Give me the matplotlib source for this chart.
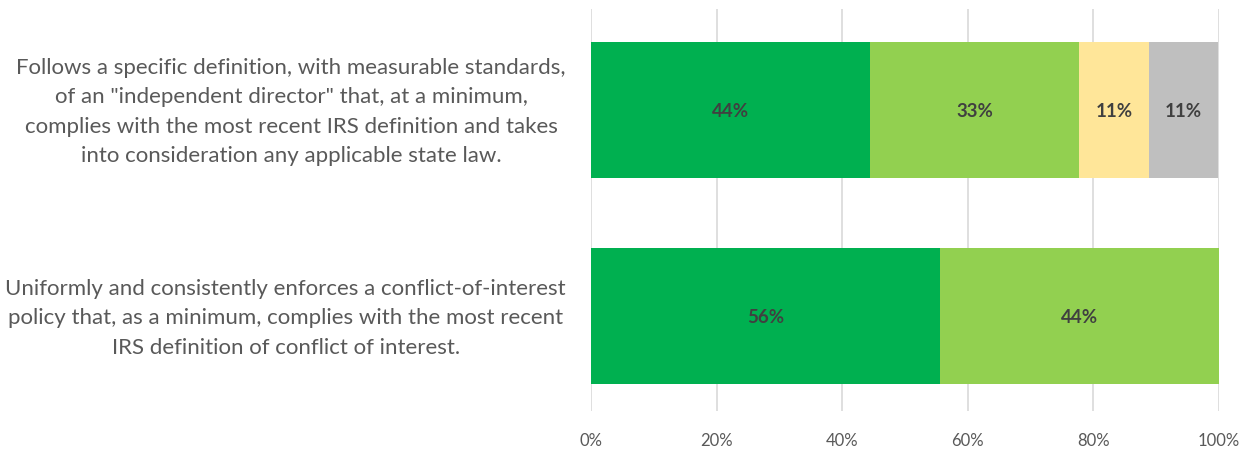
import matplotlib
matplotlib.use("Agg")
import matplotlib.pyplot as plt
import numpy as np

categories = [
    'Uniformly and consistently enforces a conflict-of-interest\npolicy that, as a minimum, complies with the most recent\nIRS definition of conflict of interest.',
    'Follows a specific definition, with measurable standards,\nof an "independent director" that, at a minimum,\ncomplies with the most recent IRS definition and takes\ninto consideration any applicable state law.',
]
series_names = ['S1', 'S2', 'S3', 'S4']
series_values = [
    [55.6, 44.4],
    [44.4, 33.3],
    [0.0, 11.1],
    [0.0, 11.1],
]
colors = ['#00B050', '#92D050', '#FFE699', '#BFBFBF']
xticks = [0, 20, 40, 60, 80, 100]
xtick_labels = ['0%', '20%', '40%', '60%', '80%', '100%']

plt.rcParams['font.family'] = ['Lato', 'DejaVu Sans']
fig = plt.figure(figsize=(12.44, 4.56), dpi=100)
ax = fig.add_axes([591/1244, 1-412/456, (1219-591)/1244, (412-10)/456])

y = np.arange(len(categories))
left = np.zeros(len(categories))
for name, vals, c in zip(series_names, series_values, colors):
    vals = np.array(vals)
    bars = ax.barh(y, vals, left=left, height=0.66, color=c, zorder=3)
    for b, v in zip(bars, vals):
        if v > 0:
            ax.text(b.get_x() + b.get_width()/2, b.get_y() + b.get_height()/2,
                    f'{v:.0f}%', ha='center', va='center', fontsize=13.5,
                    fontweight='bold', color='#404040', zorder=4)
    left += vals

ax.set_xlim(0, 100)
ax.set_ylim(-0.46, 1.49)
ax.set_xticks(xticks)
ax.set_xticklabels(xtick_labels, fontsize=12, color='#595959')
ax.set_yticks(y)
ax.set_yticklabels([''] * len(categories))
trans = ax.get_yaxis_transform()
for yi, cat in zip(y, categories):
    ax.annotate(cat, xy=(0, yi), xycoords=trans, xytext=(-25, -1),
                textcoords='offset pixels', ha='right', va='center',
                multialignment='center', fontsize=16, color='#595959',
                linespacing=1.6, annotation_clip=False)
ax.tick_params(axis='y', length=0)
ax.tick_params(axis='x', length=0, pad=15)
ax.grid(axis='x', color='#D9D9D9', linewidth=1.2, zorder=0)
for s in ax.spines.values():
    s.set_visible(False)

fig.savefig('out.png', dpi=100)
